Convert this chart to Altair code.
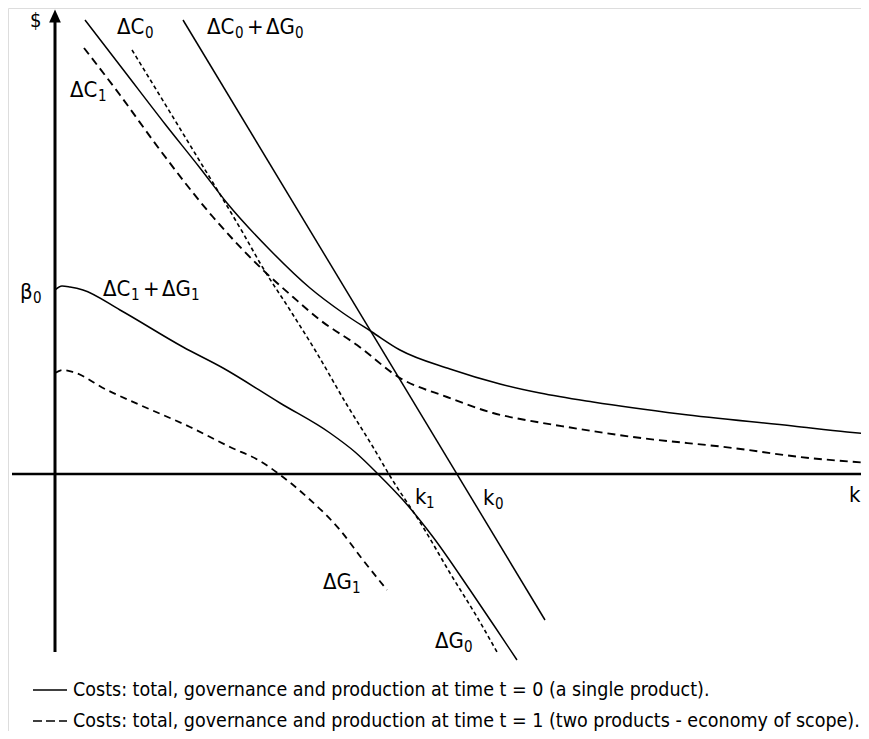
import altair as alt
import pandas as pd

# Values: k along the horizontal axis, $ on the vertical one,
# origin where the two axes cross.
CG0_k = [128, 490]
CG0_v = [454, -146]

C0_k = [30, 70, 110, 145, 172, 215, 255, 288, 317, 345, 395, 445, 485, 538, 625, 738, 792, 814]
C0_v = [454, 402, 350, 306, 271, 224, 186, 161, 142, 124, 105, 90, 81, 72, 60, 48, 42, 40]

C1_k = [29, 65, 105, 158, 208, 238, 265, 302, 345, 392, 438, 482, 512, 578, 678, 745, 814]
C1_v = [426, 379, 324, 257, 204, 177, 154, 129, 96, 77, 61, 52, 47, 37, 26, 17, 11]

G0_k = [77, 138, 188, 208, 235, 260, 292, 318, 335, 368, 395, 422, 442]
G0_v = [424, 324, 241, 206, 164, 124, 69, 27, -2, -53, -99, -143, -178]

CG1_k = [0, 7, 15, 28, 65, 128, 168, 225, 275, 300, 323, 348, 378, 415, 440, 462]
CG1_v = [184, 188, 187, 184, 164, 127, 106, 71, 41, 22, 0, -26, -63, -116, -153, -186]

G1_k = [0, 8, 18, 52, 85, 135, 175, 205, 224, 252, 285, 308, 332]
G1_v = [101, 104, 102, 84, 69, 47, 27, 13, 0, -23, -56, -86, -116]

# label pieces: main glyphs and their subscripts
main_text = ["ΔC", "ΔC", "+", "ΔG", "ΔC", "β", "ΔC", "+", "ΔG", "k", "k", "k", "ΔG", "ΔG"]
main_k = [62, 152, 192, 211, 15, -35, 48, 88, 107, 360, 428, 794, 268, 380]
main_v = [447, 447, 447, 447, 384, 182, 185, 185, 185, -23, -24, -21, -108, -167]

sub_text = ["0", "0", "0", "1", "0", "1", "1", "1", "0", "1", "0"]
sub_k = [90, 180, 240, 43, -22, 76, 136, 371, 440, 297, 409]
sub_v = [441, 441, 441, 378, 176, 179, 179, -29, -30, -114, -173]

axis_title = "$"
axis_title_k = -25
axis_title_v = 453

legend_text = [
    "Costs: total, governance and production at time t = 0 (a single product).",
    "Costs: total, governance and production at time t = 1 (two products - economy of scope).",
]
legend_v = [-216, -247]
legend_sample_k = [-22, 12]
legend_text_k = 18

FONT = "DejaVu Sans Condensed, DejaVu Sans"

xs = alt.Scale(domain=[-47, 806], nice=False, zero=False)
ys = alt.Scale(domain=[-257, 466], nice=False, zero=False)
X = alt.X("k:Q", scale=xs, axis=None)
Y = alt.Y("v:Q", scale=ys, axis=None)


def curve(k, v, dash=None, width=1.5):
    df = pd.DataFrame({"k": k, "v": v, "i": range(len(k))})
    kw = dict(color="black", strokeWidth=width, clip=True, interpolate="monotone")
    if dash:
        kw["strokeDash"] = dash
    return alt.Chart(df).mark_line(**kw).encode(x=X, y=Y, order="i:Q")


def texts(t, k, v, size):
    df = pd.DataFrame({"t": t, "k": k, "v": v})
    return alt.Chart(df).mark_text(
        align="left", baseline="middle", font=FONT, fontSize=size, color="black"
    ).encode(x=X, y=Y, text="t:N")


layers = []

# axes
yaxis = pd.DataFrame({"k": [0], "v": [-178], "v2": [452]})
layers.append(
    alt.Chart(yaxis).mark_rule(color="black", strokeWidth=3).encode(x=X, y=Y, y2="v2:Q")
)
arrow = pd.DataFrame({"k": [0], "v": [458]})
layers.append(
    alt.Chart(arrow).mark_point(
        shape="M0,-1L0.9,1L-0.9,1Z", filled=True, color="black", opacity=1, size=169
    ).encode(x=X, y=Y)
)
xaxis = pd.DataFrame({"k": [-43], "k2": [814], "v": [0]})
layers.append(
    alt.Chart(xaxis).mark_rule(color="black", strokeWidth=2.5, clip=True).encode(
        x=X, x2="k2:Q", y=Y
    )
)

# curves
layers.append(curve(CG0_k, CG0_v))
layers.append(curve(C0_k, C0_v))
layers.append(curve(CG1_k, CG1_v))
layers.append(curve(C1_k, C1_v, dash=[8, 5], width=1.9))
layers.append(curve(G1_k, G1_v, dash=[7, 5], width=1.8))
layers.append(curve(G0_k, G0_v, dash=[4, 3], width=1.6))

# labels
layers.append(texts([axis_title], [axis_title_k], [axis_title_v], 20))
layers.append(texts(main_text, main_k, main_v, 22))
layers.append(texts(sub_text, sub_k, sub_v, 15))

# legend
layers.append(curve(legend_sample_k, [legend_v[0]] * 2, width=1.5))
layers.append(curve(legend_sample_k, [legend_v[1]] * 2, dash=[9, 4], width=1.5))
layers.append(texts(legend_text, [legend_text_k] * 2, legend_v, 19.5))

chart = (
    alt.layer(*layers)
    .properties(width=853, height=723, padding=0, autosize=alt.AutoSizeParams(type="none"))
    .configure_view(stroke="transparent", strokeWidth=0)
    .configure(background="white")
)

chart.save("out.html", embed_options={"renderer": "svg", "actions": False})
